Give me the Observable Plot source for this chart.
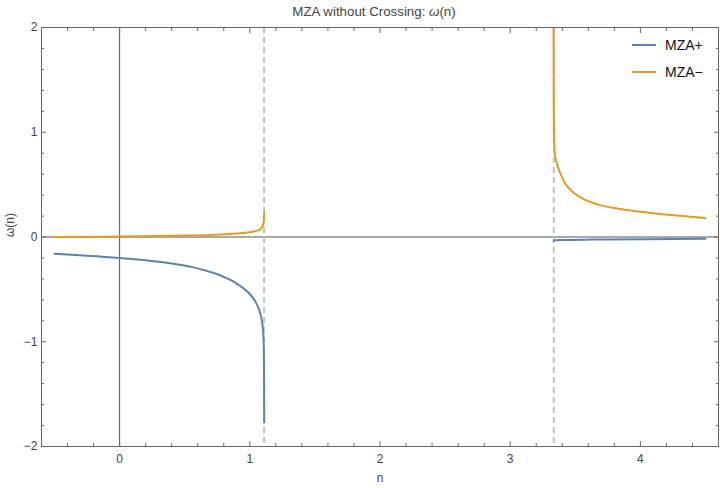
<!DOCTYPE html>
<html><head><meta charset="utf-8">
<script src="https://cdn.jsdelivr.net/npm/d3@7"></script>
<script src="https://cdn.jsdelivr.net/npm/@observablehq/plot@0.6"></script>
<style>
body{margin:0;background:#fff;font-family:"Liberation Sans",Arial,sans-serif;}
#wrap{position:relative;width:720px;height:488px;overflow:hidden;}
#title{height:20px;padding-top:4px;line-height:16px;box-sizing:border-box;font-size:13.3px;color:#444;text-align:center;padding-left:28px;width:720px;}
#legend{position:absolute;left:632px;top:32px;font-size:14px;color:#111;}
.item{display:flex;align-items:center;height:26.4px;}
.swatch{width:24px;height:2px;margin-right:9px;}
</style></head>
<body><div id="wrap"><div id="title">MZA without Crossing: <i>ω</i>(n)</div><div id="chart"></div><div id="legend"></div></div>
<script>
// MZA+ left branch
const nPlusLeft   = [-0.5, -0.25, 0, 0.2, 0.4, 0.55, 0.7, 0.8, 0.85, 0.9, 0.95, 1.0, 1.04, 1.07, 1.09, 1.1, 1.105, 1.108, 1.1095, 1.1105];
const mzaPlusLeft = [-0.16, -0.178, -0.2, -0.222, -0.252, -0.285, -0.335, -0.38, -0.41, -0.445, -0.49, -0.545, -0.61, -0.69, -0.78, -0.87, -0.96, -1.1, -1.35, -1.77];
// MZA− left branch
const nMinusLeft   = [-0.5, 0, 0.4, 0.7, 0.9, 1.0, 1.05, 1.08, 1.095, 1.103, 1.107, 1.109, 1.1105];
const mzaMinusLeft = [0.0, 0.005, 0.012, 0.02, 0.033, 0.045, 0.058, 0.075, 0.095, 0.12, 0.15, 0.19, 0.237];
// MZA+ right branch
const nPlusRight   = [3.3335, 3.336, 3.34, 3.35, 3.42, 3.62, 3.75, 4.0, 4.25, 4.5];
const mzaPlusRight = [-0.037, -0.034, -0.032, -0.031, -0.028, -0.025, -0.024, -0.021, -0.019, -0.017];
// MZA− right branch
const nMinusRight   = [3.3335, 3.334, 3.335, 3.3365, 3.34, 3.345, 3.355, 3.37, 3.39, 3.42, 3.46, 3.5, 3.56, 3.62, 3.7, 3.8, 3.9, 4.0, 4.15, 4.3, 4.5];
const mzaMinusRight = [2.3, 1.6, 1.2, 0.95, 0.84, 0.78, 0.72, 0.655, 0.595, 0.515, 0.455, 0.41, 0.365, 0.333, 0.302, 0.276, 0.257, 0.24, 0.22, 0.202, 0.18];

const asymptotes = [1.11, 3.335];
const seriesNames = ["MZA+", "MZA\u2212"];
const seriesColors = ["#5E81B5", "#E19C24"];
const xTicks = [0, 1, 2, 3, 4];
const yTicks = [-2, -1, 0, 1, 2];
const xMinor = [-0.4, -0.2, 0.2, 0.4, 0.6, 0.8, 1.2, 1.4, 1.6, 1.8, 2.2, 2.4, 2.6, 2.8, 3.2, 3.4, 3.6, 3.8, 4.2, 4.4];
const yMinor = [-1.8, -1.6, -1.4, -1.2, -0.8, -0.6, -0.4, -0.2, 0.2, 0.4, 0.6, 0.8, 1.2, 1.4, 1.6, 1.8];

const rows = (ns, ws, series, seg) => ns.map((n, i) => ({n, w: ws[i], series, seg: series + seg}));
const data = [
  ...rows(nPlusLeft, mzaPlusLeft, seriesNames[0], "L"),
  ...rows(nPlusRight, mzaPlusRight, seriesNames[0], "R"),
  ...rows(nMinusLeft, mzaMinusLeft, seriesNames[1], "L"),
  ...rows(nMinusRight, mzaMinusRight, seriesNames[1], "R")
];

const fmt = d => d < 0 ? "\u2212" + Math.abs(d) : String(d);
const frameCol = "#666", textCol = "#444";
const chart = Plot.plot({
  width: 720, height: 468,
  marginTop: 7, marginBottom: 42, marginLeft: 41, marginRight: 2,
  style: {fontFamily: "'Liberation Sans', Arial, sans-serif", fontSize: "12px", background: "#fff"},
  x: {domain: [-0.6, 4.6]},
  y: {domain: [-2, 2]},
  color: {domain: seriesNames, range: seriesColors},
  marks: [
    Plot.ruleX([0], {stroke: "#555", strokeWidth: 1}),
    Plot.ruleY([0], {stroke: "#555", strokeWidth: 1}),
    Plot.ruleX(asymptotes, {stroke: "#c4c4c4", strokeWidth: 2, strokeDasharray: "6,4"}),
    Plot.line(data, {x: "n", y: "w", z: "seg", stroke: "series", strokeWidth: 2, curve: "monotone-x", clip: true}),
    Plot.frame({stroke: frameCol}),
    Plot.axisX(xTicks, {anchor: "bottom", tickSize: -5, tickPadding: 13, stroke: frameCol, fill: textCol, label: null, tickFormat: fmt}),
    Plot.axisX(xTicks, {anchor: "top", tickSize: -5, tickFormat: () => "", stroke: frameCol, label: null}),
    Plot.axisX(xMinor, {anchor: "bottom", tickSize: -3, tickFormat: () => "", stroke: frameCol, label: null}),
    Plot.axisX(xMinor, {anchor: "top", tickSize: -3, tickFormat: () => "", stroke: frameCol, label: null}),
    Plot.axisY(yTicks, {anchor: "left", tickSize: -5, tickPadding: 9, stroke: frameCol, fill: textCol, label: null, tickFormat: fmt}),
    Plot.axisY(yTicks, {anchor: "right", tickSize: -5, tickFormat: () => "", stroke: frameCol, label: null}),
    Plot.axisY(yMinor, {anchor: "left", tickSize: -3, tickFormat: () => "", stroke: frameCol, label: null}),
    Plot.axisY(yMinor, {anchor: "right", tickSize: -3, tickFormat: () => "", stroke: frameCol, label: null}),
    Plot.text(["n"], {text: d => d, frameAnchor: "bottom", dy: 32, lineAnchor: "middle", fill: textCol, fontSize: 12}),
    Plot.text(["\u03c9(n)"], {text: d => d, frameAnchor: "left", dx: -31, rotate: -90, fill: textCol, fontSize: 12})
  ]
});
document.getElementById("chart").appendChild(chart);

const legend = document.getElementById("legend");
seriesNames.forEach((name, i) => {
  const item = document.createElement("div");
  item.className = "item";
  const sw = document.createElement("span");
  sw.className = "swatch";
  sw.style.background = seriesColors[i];
  const label = document.createElement("span");
  label.textContent = name;
  item.appendChild(sw); item.appendChild(label);
  legend.appendChild(item);
});
</script>
</body></html>
